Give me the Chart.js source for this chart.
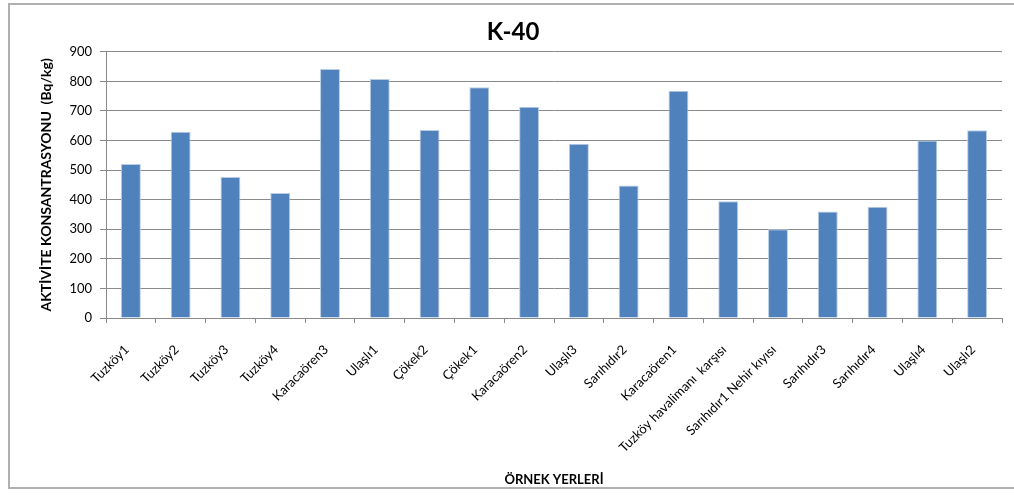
<!DOCTYPE html>
<html>
<head>
<meta charset="utf-8">
<script src="https://cdn.jsdelivr.net/npm/chart.js@4/dist/chart.umd.min.js"></script>
<style>
    html, body { margin: 0; padding: 0; background: #fff; overflow: hidden; }
    #wrap { position: relative; width: 1014px; height: 495px; }
    #frame {
        position: absolute; left: 8px; top: 3px; width: 1100px; height: 486px;
        border: 2px solid #b0b0b0; box-sizing: border-box; pointer-events: none;
    }
    canvas { position: absolute; left: 0; top: 0; }
</style>
</head>
<body>
<div id="wrap">
    <div id="frame"></div>
    <canvas id="k40Chart" width="1014" height="495"></canvas>
</div>
<script>
const chartTitle = 'K-40';
const xTitle = 'ÖRNEK YERLERİ';
const yTitle = 'AKTİVİTE KONSANTRASYONU  (Bq/kg)';

const locations = [
    'Tuzköy1', 'Tuzköy2', 'Tuzköy3', 'Tuzköy4', 'Karacaören3', 'Ulaşlı1',
    'Çökek2', 'Çökek1', 'Karacaören2', 'Ulaşlı3', 'Sarıhıdır2', 'Karacaören1',
    'Tuzköy havalimanı  karşısı', 'Sarıhıdır1 Nehir kıyısı', 'Sarıhıdır3',
    'Sarıhıdır4', 'Ulaşlı4', 'Ulaşlı2'
];
const k40Values = [
    521, 630, 477, 423, 842, 808,
    636, 780, 714, 589, 448, 768,
    395, 300, 360, 376, 600, 635
];
const yMin = 0;
const yMax = 900;
const yStep = 100;

const gridGray = '#8a8a8a';
const fontFamily = 'Lato, "Open Sans", sans-serif';

const ctx = document.getElementById('k40Chart').getContext('2d');
const chart = new Chart(ctx, {
    type: 'bar',
    data: {
        labels: locations,
        datasets: [{
            data: k40Values,
            backgroundColor: '#4f81bd',
            borderColor: '#b9cde5',
            borderWidth: 1,
            barPercentage: 0.4,
            categoryPercentage: 1.0
        }]
    },
    options: {
        responsive: false,
        animation: false,
        layout: {
            padding: { left: 24, right: 12, top: 0, bottom: 4 }
        },
        plugins: {
            legend: { display: false },
            tooltip: { enabled: false },
            title: {
                display: true,
                text: chartTitle,
                color: '#000',
                font: { family: fontFamily, size: 24, weight: 'bold', lineHeight: 1.2 },
                padding: { top: 18, bottom: 5 }
            }
        },
        scales: {
            x: {
                grid: {
                    display: true,
                    offset: true,
                    drawOnChartArea: false,
                    drawTicks: true,
                    tickLength: 5,
                    color: gridGray
                },
                border: { display: true, color: gridGray },
                ticks: {
                    color: '#000',
                    font: { family: fontFamily, size: 13 },
                    maxRotation: 45,
                    minRotation: 45,
                    autoSkip: false,
                    padding: 19,
                    labelOffset: -4
                },
                title: {
                    display: true,
                    text: xTitle,
                    color: '#000',
                    font: { family: fontFamily, size: 13, weight: 'bold', lineHeight: 1.2 },
                    padding: { top: 4, bottom: 3 }
                },
                afterFit: (scale) => { scale.height = 173; }
            },
            y: {
                min: yMin,
                max: yMax,
                ticks: {
                    stepSize: yStep,
                    color: '#000',
                    font: { family: fontFamily, size: 13 },
                    padding: 8
                },
                grid: {
                    color: gridGray,
                    tickLength: 6,
                    lineWidth: 1
                },
                border: { display: true, color: gridGray },
                title: {
                    display: true,
                    text: yTitle,
                    color: '#000',
                    font: { family: fontFamily, size: 14, weight: 'bold', lineHeight: 1.2 },
                    padding: { top: 14, bottom: 4 }
                },
                afterFit: (scale) => { scale.width = 82; }
            }
        }
    }
});
</script>
</body>
</html>
